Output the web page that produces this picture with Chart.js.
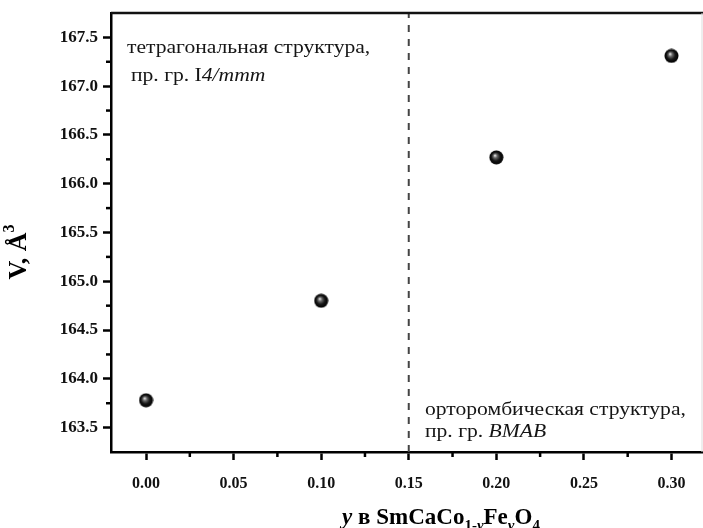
<!DOCTYPE html>
<html>
<head>
<meta charset="utf-8">
<script src="https://cdn.jsdelivr.net/npm/chart.js@4.4.1/dist/chart.umd.min.js"></script>
<style>
html, body { margin: 0; padding: 0; background: #fff; overflow: hidden; }
#wrap { width: 703px; height: 528px; }
canvas { display: block; }
</style>
</head>
<body>
<div id="wrap"><canvas id="chart" width="703" height="528"></canvas></div>
<script>
// composition y and unit cell volume V (A^3)
const compositionY = [0.00, 0.10, 0.20, 0.30];
const cellVolume = [163.78, 164.80, 166.27, 167.31];
const phaseBoundary = [0.15];
const xTickValues = [0.00, 0.05, 0.10, 0.15, 0.20, 0.25, 0.30];
const yTickValues = [163.5, 164.0, 164.5, 165.0, 165.5, 166.0, 166.5, 167.0, 167.5];
const xRange = [-0.02, 0.318];
const yRange = [163.25, 167.75];

const SERIF = '"Liberation Serif", "DejaVu Serif", serif';

// shaded ball marker
function makeBall(r) {
    const c = document.createElement('canvas');
    c.width = r * 2 + 1;
    c.height = r * 2 + 1;
    const g = c.getContext('2d');
    const cx = r + 0.5, cy = r + 0.5;
    const grad = g.createRadialGradient(cx - 1.5, cy - 2, 0.3, cx, cy, r);
    grad.addColorStop(0, '#e6e6e6');
    grad.addColorStop(0.25, '#6a6a6a');
    grad.addColorStop(0.6, '#151515');
    grad.addColorStop(1, '#000');
    g.fillStyle = grad;
    g.beginPath();
    g.arc(cx, cy, r, 0, Math.PI * 2);
    g.fill();
    return c;
}
const ball = makeBall(7);

const pointData = compositionY.map((x, i) => ({ x: x, y: cellVolume[i] }));
const boundaryData = [
    { x: phaseBoundary[0], y: yRange[0] },
    { x: phaseBoundary[0], y: yRange[1] }
];

// minor ticks, frame, titles and labels
const decorPlugin = {
    id: 'decor',
    afterDraw(chart) {
        const ctx = chart.ctx;
        const a = chart.chartArea;
        const xs = chart.scales.x, ys = chart.scales.y;
        ctx.save();
        // frame top + right
        ctx.strokeStyle = '#111';
        ctx.lineWidth = 2.5;
        ctx.beginPath();
        ctx.moveTo(a.left, a.top);
        ctx.lineTo(a.right, a.top);
        ctx.stroke();
        ctx.strokeStyle = '#ddd';
        ctx.lineWidth = 1;
        ctx.beginPath();
        ctx.moveTo(a.right - 1, a.top);
        ctx.lineTo(a.right - 1, a.bottom);
        ctx.stroke();

        // minor ticks
        ctx.strokeStyle = '#000';
        ctx.lineWidth = 2.5;
        for (let i = 0; i < xTickValues.length - 1; i++) {
            const px = xs.getPixelForValue((xTickValues[i] + xTickValues[i + 1]) / 2);
            ctx.beginPath();
            ctx.moveTo(px, a.bottom);
            ctx.lineTo(px, a.bottom + 5);
            ctx.stroke();
        }
        for (let i = 0; i < yTickValues.length - 1; i++) {
            const py = ys.getPixelForValue((yTickValues[i] + yTickValues[i + 1]) / 2);
            ctx.beginPath();
            ctx.moveTo(a.left, py);
            ctx.lineTo(a.left - 5, py);
            ctx.stroke();
        }

        const drawRuns = (runs, x, y) => {
            for (const r of runs) {
                ctx.font = r[1];
                ctx.fillText(r[0], x, y + (r[2] || 0));
                x += ctx.measureText(r[0]).width;
            }
            return x;
        };
        // annotations (picture is stretched sideways a bit)
        ctx.fillStyle = '#151515';
        ctx.textBaseline = 'alphabetic';
        ctx.textAlign = 'left';
        const reg = '18px ' + SERIF, ital = 'italic 18px ' + SERIF;
        const stretched = (runs, x, y) => {
            ctx.save();
            ctx.translate(x, y);
            ctx.scale(1.2, 1);
            drawRuns(runs, 0, 0);
            ctx.restore();
        };
        stretched([['тетрагональная структура,', reg]], 127, 53);
        stretched([['пр. гр. I', reg], ['4/mmm', ital]], 131, 81);
        stretched([['орторомбическая структура,', reg]], 425, 415);
        stretched([['пр. гр. ', reg], ['BMAB', ital]], 425, 437);

        // x title
        ctx.fillStyle = '#000';
        const bt = 'bold 23px ' + SERIF, bi = 'bold italic 23px ' + SERIF;
        const st = 'bold 15px ' + SERIF, si = 'bold italic 15px ' + SERIF;
        const xRuns = [
            ['y', bi], [' в SmCaCo', bt], ['1-', st, 6], ['y', si, 6],
            ['Fe', bt], ['y', si, 6], ['O', bt], ['4', st, 6]
        ];
        let w = 0;
        for (const r of xRuns) { ctx.font = r[1]; w += ctx.measureText(r[0]).width; }
        drawRuns(xRuns, 441 - w / 2, 524);

        // y title
        ctx.translate(26, 252);
        ctx.rotate(-Math.PI / 2);
        const yRuns = [['V, Å', 'bold 26px ' + SERIF], ['3', 'bold 16px ' + SERIF, -12]];
        w = 0;
        for (const r of yRuns) { ctx.font = r[1]; w += ctx.measureText(r[0]).width; }
        drawRuns(yRuns, -w / 2, 0);
        ctx.restore();
    }
};

new Chart(document.getElementById('chart'), {
    type: 'scatter',
    data: {
        datasets: [
            {
                label: 'V',
                data: pointData,
                pointStyle: ball,
                pointRadius: 7,
                pointHoverRadius: 7
            },
            {
                label: 'boundary',
                data: boundaryData,
                showLine: true,
                borderColor: '#444',
                borderWidth: 2,
                borderDash: [7, 7],
                pointRadius: 0
            }
        ]
    },
    options: {
        responsive: false,
        animation: false,
        events: [],
        layout: { autoPadding: false, padding: { left: 0, top: 13, right: 0, bottom: 0 } },
        plugins: {
            legend: { display: false },
            tooltip: { enabled: false }
        },
        scales: {
            x: {
                type: 'linear',
                min: xRange[0],
                max: xRange[1],
                afterBuildTicks: (s) => { s.ticks = xTickValues.map(v => ({ value: v })); },
                afterFit: (s) => { s.height = 76; s.paddingLeft = 0; s.paddingRight = 0; },
                border: { color: '#000', width: 2.5 },
                grid: { drawOnChartArea: false, tickLength: 8, tickWidth: 2.5, tickColor: '#000' },
                ticks: {
                    padding: 14,
                    color: '#111',
                    font: { family: SERIF, size: 16, weight: 'bold' },
                    callback: (v) => v.toFixed(2),
                    maxRotation: 0,
                    autoSkip: false
                }
            },
            y: {
                type: 'linear',
                min: yRange[0],
                max: yRange[1],
                afterBuildTicks: (s) => { s.ticks = yTickValues.map(v => ({ value: v })); },
                afterFit: (s) => { s.width = 111; s.paddingTop = 0; s.paddingBottom = 0; },
                border: { color: '#000', width: 2.5 },
                grid: { drawOnChartArea: false, tickLength: 8, tickWidth: 2.5, tickColor: '#000' },
                ticks: {
                    padding: 5,
                    color: '#111',
                    font: { family: SERIF, size: 17, weight: 'bold' },
                    callback: (v) => v.toFixed(1),
                    autoSkip: false
                }
            }
        }
    },
    plugins: [decorPlugin]
});
</script>
</body>
</html>
